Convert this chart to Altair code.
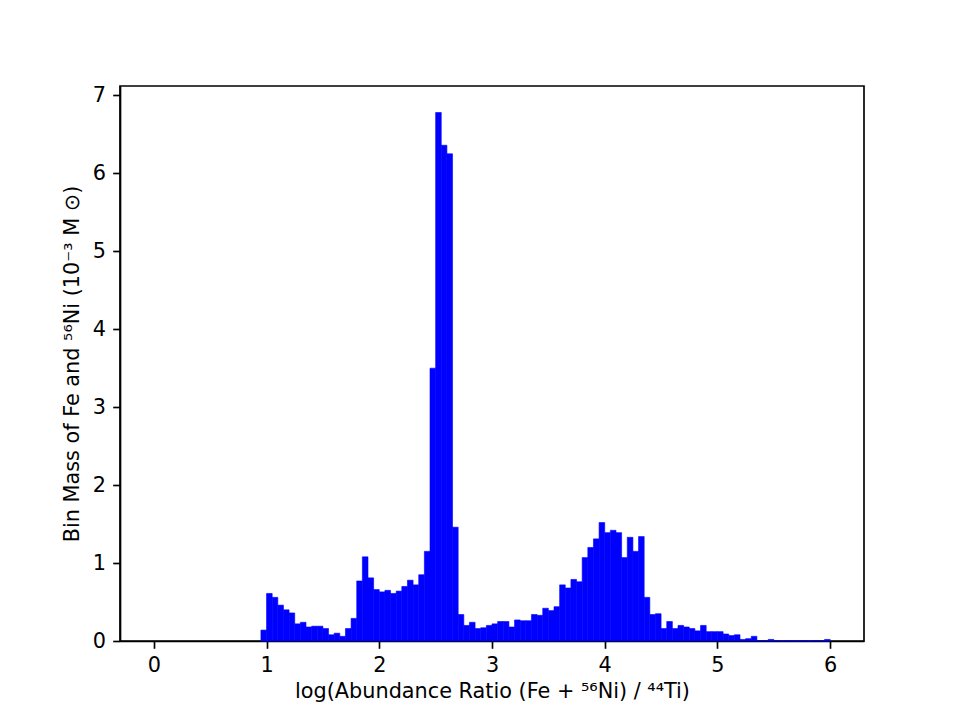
import altair as alt
import pandas as pd

# Histogram bins (left edges start at 0.95, width 0.05)
bin_width = 0.05
first_edge = 0.95
mass = [
    0.14, 0.61, 0.56, 0.46, 0.40, 0.36, 0.22, 0.24, 0.18, 0.19,
    0.19, 0.16, 0.08, 0.10, 0.06, 0.16, 0.29, 0.77, 1.08, 0.81,
    0.66, 0.63, 0.65, 0.61, 0.64, 0.70, 0.78, 0.72, 0.85, 1.15,
    3.50, 6.78, 6.36, 6.25, 1.46, 0.34, 0.20, 0.24, 0.16, 0.17,
    0.20, 0.22, 0.25, 0.25, 0.18, 0.27, 0.26, 0.26, 0.34, 0.33,
    0.42, 0.39, 0.44, 0.72, 0.68, 0.79, 0.76, 1.07, 1.20, 1.31,
    1.52, 1.39, 1.42, 1.39, 1.07, 1.33, 1.15, 1.34, 0.56, 0.34,
    0.35, 0.16, 0.25, 0.16, 0.20, 0.18, 0.16, 0.13, 0.20, 0.12,
    0.12, 0.12, 0.09, 0.07, 0.08, 0.02, 0.03, 0.06, 0.005, 0.005,
    0.02, 0.005, 0.003, 0.003, 0.003, 0.003, 0.005, 0.002, 0.005, 0.005,
    0.02,
]
x_ticks = [0, 1, 2, 3, 4, 5, 6]
y_ticks = [0, 1, 2, 3, 4, 5, 6, 7]

starts = [round(first_edge + i * bin_width, 4) for i in range(len(mass))]
ends = [round(s + bin_width, 4) for s in starts]
df = pd.DataFrame({"start": starts, "end": ends, "mass": mass, "base": [0.0] * len(mass)})

FONT = "DejaVu Sans"
FS = 20.8
LW = 1.67
TICK = 7.3

chart = alt.Chart(df).mark_rect(
    color="#0000ff", stroke="#0000ff", strokeWidth=0.6
).encode(
    x=alt.X(
        "start:Q",
        scale=alt.Scale(domain=[-0.3, 6.3], nice=False, zero=False),
        axis=alt.Axis(
            values=x_ticks,
            format="d",
            title="log(Abundance Ratio (Fe + ⁵⁶Ni) / ⁴⁴Ti)",
            titlePadding=6,
        ),
    ),
    x2="end:Q",
    y=alt.Y(
        "mass:Q",
        scale=alt.Scale(domain=[0, 7.12], nice=False),
        axis=alt.Axis(
            values=y_ticks,
            format="d",
            title="Bin Mass of Fe and ⁵⁶Ni (10⁻³ M ⊙)",
            titlePadding=10,
        ),
    ),
    y2="base:Q",
).properties(
    width=744,
    height=555,
    background="#ffffff",
    autosize=alt.AutoSizeParams(type="none"),
    padding={"left": 112, "top": 78, "right": 88, "bottom": 71},
).configure_view(
    stroke="#000000",
    strokeWidth=LW,
).configure_axis(
    grid=False,
    domainColor="#000000",
    domainWidth=LW,
    tickColor="#000000",
    tickWidth=LW,
    tickSize=TICK,
    labelPadding=TICK,
    labelFont=FONT,
    labelFontSize=FS,
    labelColor="#000000",
    titleFont=FONT,
    titleFontSize=FS,
    titleFontWeight="normal",
    titleColor="#000000",
    labelFlush=False,
    labelOverlap=False,
)

chart.save("out.html", embed_options={"renderer": "svg", "actions": False})
